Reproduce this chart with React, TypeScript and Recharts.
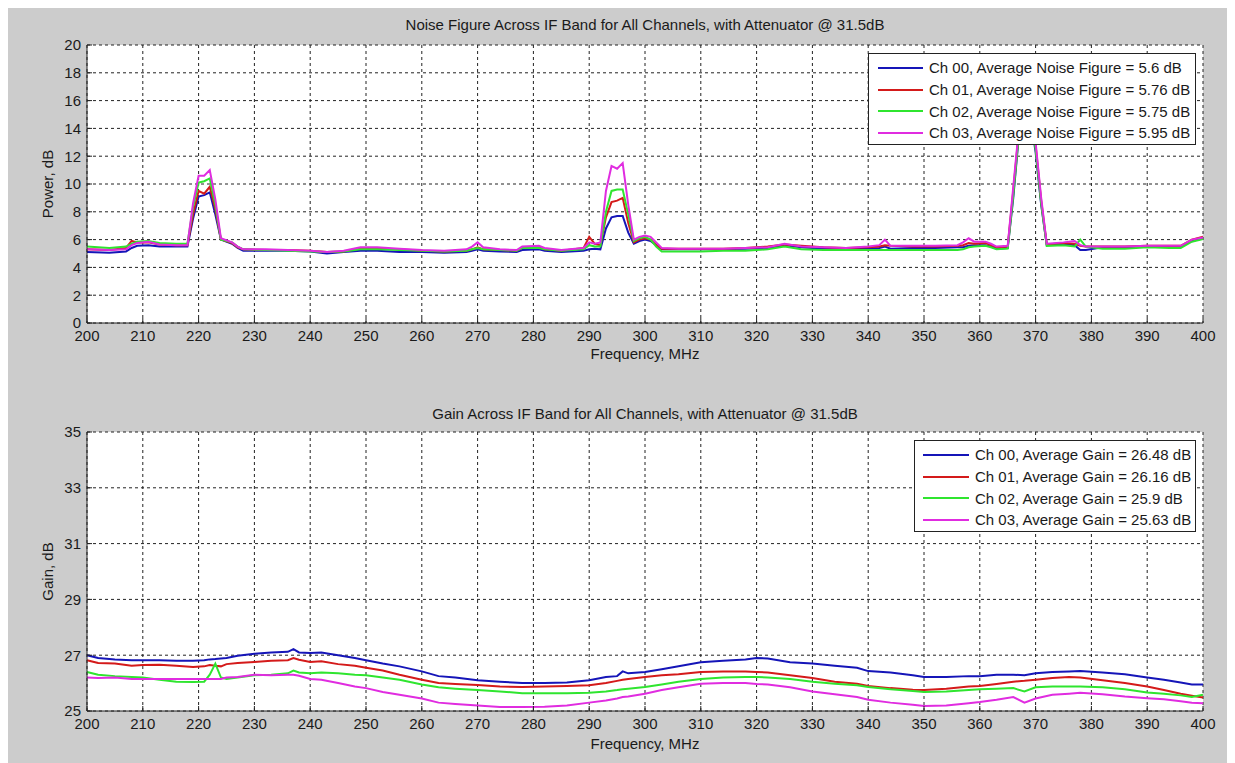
import React from 'react';
import { CartesianGrid, Label, Line, LineChart, XAxis, YAxis } from 'recharts';

const FONT = '"Liberation Sans", Arial, Helvetica, sans-serif';

const channelNames = ['Ch 00', 'Ch 01', 'Ch 02', 'Ch 03'];
const channelColors = ['#1515b8', '#d41a1a', '#2fe52f', '#e02ce0'];

const freqTicks = [200, 210, 220, 230, 240, 250, 260, 270, 280, 290, 300, 310, 320, 330, 340, 350, 360, 370, 380, 390, 400];
const nfTicks = [0, 2, 4, 6, 8, 10, 12, 14, 16, 18, 20];
const gainTicks = [25, 27, 29, 31, 33, 35];

const nfAverages = [5.6, 5.76, 5.75, 5.95];
const gainAverages = [26.48, 26.16, 25.9, 25.63];

// noise figure sweep, MHz
const nfFreq = [
  200, 204, 207, 208, 209, 211, 213, 216, 218, 219,
  220, 221, 222, 223, 224, 226, 227, 228, 232, 236,
  240, 243, 246, 249, 252, 256, 260, 264, 268, 269,
  270, 271, 274, 277, 278, 281, 282, 285, 289, 290,
  291, 292, 293, 294, 295, 296, 297, 298, 299, 300,
  301, 302, 303, 306, 310, 314, 318, 322, 325, 328,
  332, 336, 340, 342, 343, 344, 348, 352, 356, 357,
  358, 359, 361, 362, 363, 365, 366, 367, 368, 369,
  370, 371, 372, 375, 377, 378, 379, 382, 386, 390,
  394, 396, 398, 400,
];
const nfCh00 = [
  5.1, 5.05, 5.15, 5.4, 5.55, 5.6, 5.5, 5.5, 5.5, 7.5,
  9.1, 9.2, 9.4, 7.8, 6.0, 5.7, 5.4, 5.2, 5.2, 5.2,
  5.15, 5.0, 5.1, 5.2, 5.2, 5.1, 5.1, 5.05, 5.1, 5.2,
  5.3, 5.2, 5.15, 5.1, 5.25, 5.3, 5.2, 5.1, 5.2, 5.3,
  5.35, 5.3, 6.8, 7.6, 7.7, 7.7, 6.5, 5.7, 5.9, 6.0,
  5.9, 5.6, 5.3, 5.3, 5.3, 5.3, 5.35, 5.4, 5.6, 5.45,
  5.35, 5.35, 5.35, 5.4, 5.5, 5.35, 5.4, 5.4, 5.45, 5.45,
  5.55, 5.6, 5.6, 5.5, 5.35, 5.4, 9.0, 13.5, 15.0, 15.0,
  12.3, 8.5, 5.6, 5.7, 5.6, 5.25, 5.25, 5.45, 5.45, 5.5,
  5.5, 5.5, 5.9, 6.1,
];
const nfCh01 = [
  5.3, 5.25, 5.4, 5.9, 5.8, 5.8, 5.65, 5.6, 5.6, 7.8,
  9.5, 9.3, 9.8, 8.2, 6.0, 5.75, 5.45, 5.3, 5.25, 5.25,
  5.2, 5.1, 5.15, 5.35, 5.35, 5.3, 5.2, 5.15, 5.2, 5.3,
  5.45, 5.3, 5.25, 5.2, 5.4, 5.45, 5.3, 5.2, 5.4, 6.2,
  5.7, 5.6, 7.6, 8.7, 8.8, 9.0, 7.2, 5.8, 6.0, 6.1,
  6.0, 5.6, 5.35, 5.35, 5.35, 5.35, 5.4, 5.5, 5.65, 5.55,
  5.45, 5.4, 5.45, 5.5, 5.6, 5.55, 5.5, 5.5, 5.55, 5.6,
  5.75, 5.7, 5.75, 5.6, 5.45, 5.5, 9.5, 13.8, 15.2, 15.3,
  12.8, 8.8, 5.65, 5.75, 5.7, 5.55, 5.5, 5.5, 5.5, 5.55,
  5.55, 5.55, 6.0, 6.2,
];
const nfCh02 = [
  5.5, 5.4, 5.5, 5.7, 5.85, 5.9, 5.75, 5.7, 5.7, 8.3,
  10.1, 10.2, 10.4, 8.5, 6.0, 5.8, 5.5, 5.3, 5.25, 5.2,
  5.15, 5.1, 5.15, 5.3, 5.3, 5.25, 5.2, 5.15, 5.2, 5.3,
  5.4, 5.3, 5.25, 5.2, 5.4, 5.4, 5.3, 5.2, 5.3, 5.6,
  5.5, 5.5, 8.0, 9.5, 9.6, 9.6, 7.8, 5.9, 6.1, 6.2,
  6.0, 5.5, 5.15, 5.15, 5.15, 5.2, 5.2, 5.3, 5.5, 5.3,
  5.25, 5.25, 5.25, 5.25, 5.25, 5.25, 5.25, 5.25, 5.25, 5.3,
  5.45, 5.5, 5.55, 5.45, 5.3, 5.35, 9.2, 13.6, 15.0, 15.1,
  12.5, 8.6, 5.55, 5.6, 5.5, 6.0, 5.5, 5.35, 5.35, 5.45,
  5.4, 5.4, 5.85, 6.05,
];
const nfCh03 = [
  5.3, 5.25, 5.3, 5.6, 5.75, 5.85, 5.65, 5.6, 5.6, 8.6,
  10.6, 10.6, 11.0, 8.9, 6.1, 5.8, 5.5, 5.3, 5.3, 5.25,
  5.2, 5.1, 5.2, 5.45, 5.45, 5.35, 5.25, 5.2, 5.3, 5.5,
  5.8, 5.45, 5.3, 5.25, 5.5, 5.55, 5.4, 5.25, 5.4, 5.8,
  5.7, 5.8, 9.5, 11.3, 11.1, 11.5, 8.5, 6.0, 6.2, 6.3,
  6.2, 5.8, 5.4, 5.35, 5.35, 5.35, 5.4, 5.45, 5.7, 5.5,
  5.45, 5.4, 5.5, 5.6, 6.0, 5.55, 5.55, 5.55, 5.6, 5.8,
  6.1, 5.85, 5.85, 5.7, 5.5, 5.55, 9.8, 14.0, 15.3, 15.4,
  13.0, 9.0, 5.7, 5.8, 5.9, 5.6, 5.5, 5.5, 5.5, 5.55,
  5.55, 5.55, 6.0, 6.15,
];

// gain sweep, MHz
const gainFreq = [
  200, 202, 205, 208, 210, 213, 216, 219, 221, 222,
  223, 224, 225, 227, 230, 233, 236, 237, 238, 240,
  242, 245, 248, 250, 253, 256, 260, 263, 266, 270,
  274, 278, 282, 286, 290, 293, 295, 296, 297, 300,
  303, 306, 310, 314, 318, 320, 322, 326, 330, 334,
  338, 340, 344, 348, 350, 354, 358, 360, 363, 366,
  368, 370, 373, 376, 378, 382, 386, 390, 393, 396,
  398, 400,
];
const gainCh00 = [
  27.0, 26.9, 26.85, 26.82, 26.82, 26.82, 26.8, 26.8, 26.82, 26.85,
  26.86, 26.88, 26.9, 26.98, 27.05, 27.1, 27.12, 27.22, 27.1, 27.08,
  27.1, 27.0, 26.9, 26.82, 26.7, 26.6, 26.42, 26.25, 26.2, 26.1,
  26.05, 26.0, 26.0, 26.02, 26.1, 26.22, 26.25, 26.42, 26.35, 26.4,
  26.5, 26.6, 26.75, 26.8, 26.85, 26.9, 26.88, 26.75, 26.7, 26.62,
  26.55, 26.43, 26.38, 26.28, 26.22, 26.22, 26.25, 26.25, 26.3, 26.3,
  26.28, 26.35, 26.4, 26.42, 26.43, 26.38, 26.32, 26.2, 26.12, 26.02,
  25.95, 25.95,
];
const gainCh01 = [
  26.82, 26.72, 26.7, 26.62, 26.65, 26.66, 26.62, 26.58, 26.6, 26.65,
  26.62, 26.6, 26.68, 26.72, 26.76, 26.8, 26.82, 26.9, 26.84, 26.76,
  26.78, 26.68, 26.62, 26.55, 26.45, 26.3, 26.12, 26.0, 25.97, 25.93,
  25.88, 25.86, 25.88, 25.9, 25.92, 26.0, 26.08, 26.12, 26.15, 26.22,
  26.28, 26.32, 26.4, 26.42, 26.42, 26.4, 26.38, 26.28, 26.18, 26.05,
  25.98, 25.9, 25.82, 25.76, 25.75, 25.8, 25.88, 25.9, 25.97, 26.05,
  26.08, 26.12, 26.18, 26.22, 26.2, 26.1, 26.0, 25.88, 25.75, 25.62,
  25.55, 25.48,
];
const gainCh02 = [
  26.4, 26.3, 26.25, 26.22, 26.2, 26.12, 26.05, 26.04, 26.05, 26.3,
  26.7, 26.2, 26.15, 26.2, 26.28, 26.3, 26.35, 26.45, 26.38, 26.35,
  26.38, 26.35, 26.3, 26.28, 26.2, 26.12, 25.95, 25.85, 25.8, 25.75,
  25.7, 25.64, 25.64, 25.64, 25.65, 25.7, 25.75, 25.78, 25.8, 25.86,
  25.95, 26.05, 26.15, 26.2, 26.22, 26.22, 26.2, 26.15, 26.05, 25.98,
  25.92, 25.86, 25.78, 25.72, 25.68, 25.7, 25.75, 25.78, 25.8, 25.82,
  25.7, 25.85, 25.88, 25.88, 25.88, 25.85, 25.78, 25.66, 25.62, 25.56,
  25.5, 25.58,
];
const gainCh03 = [
  26.2, 26.18, 26.2, 26.15, 26.15, 26.15, 26.15, 26.15, 26.15, 26.15,
  26.15, 26.15, 26.2, 26.22, 26.3, 26.28, 26.3, 26.3, 26.26, 26.15,
  26.12, 26.0, 25.88, 25.82, 25.68, 25.58, 25.45, 25.3, 25.25, 25.2,
  25.14, 25.14, 25.15, 25.2, 25.3, 25.38, 25.45, 25.5, 25.52, 25.62,
  25.75, 25.85, 25.98, 26.0, 26.0, 25.97, 25.95, 25.85, 25.7, 25.6,
  25.5, 25.4, 25.3, 25.22, 25.18, 25.2, 25.28, 25.32, 25.4, 25.5,
  25.3, 25.45, 25.58, 25.62, 25.65, 25.6, 25.52, 25.46, 25.42, 25.35,
  25.3, 25.28,
];

const toRows = (freq: number[], series: number[][]) =>
  freq.map((f, i) => {
    const row: Record<string, number> = { f };
    series.forEach((s, k) => {
      row[`ch${k}`] = s[i];
    });
    return row;
  });

const nfRows = toRows(nfFreq, [nfCh00, nfCh01, nfCh02, nfCh03]);
const gainRows = toRows(gainFreq, [gainCh00, gainCh01, gainCh02, gainCh03]);

const CHART_W = 1227;
const tickStyle = { fontSize: 15, fill: '#1a1a1a', fontFamily: FONT };

type LegendProps = {
  labels: string[];
  left: number;
  top: number;
  width: number;
  padLeft: number;
  swatch: number;
};

const LegendBox = ({ labels, left, top, width, padLeft, swatch }: LegendProps) => (
  <div
    style={{
      position: 'absolute',
      left,
      top,
      width,
      height: 92,
      boxSizing: 'border-box',
      background: '#fff',
      border: '1px solid #222',
      paddingTop: 3,
      paddingLeft: padLeft,
      zIndex: 2,
    }}
  >
    {labels.map((lbl, i) => (
      <div key={lbl} style={{ display: 'flex', alignItems: 'center', height: 21.7, fontSize: 15, color: '#1a1a1a', whiteSpace: 'nowrap' }}>
        <span style={{ display: 'inline-block', width: swatch, height: 2, background: channelColors[i], marginRight: 6 }} />
        {lbl}
      </div>
    ))}
  </div>
);

type PanelProps = {
  rows: Record<string, number>[];
  yTicks: number[];
  yLabel: string;
  height: number;
  marginTop: number;
  marginBottom: number;
  xLabelOffset: number;
};

const Panel = ({ rows, yTicks, yLabel, height, marginTop, marginBottom, xLabelOffset }: PanelProps) => (
  <LineChart width={CHART_W} height={height} data={rows} margin={{ top: marginTop, right: 32, left: 0, bottom: marginBottom }}>
    <CartesianGrid fill="#fff" stroke="#222" strokeDasharray="3 3" />
    <XAxis
      dataKey="f"
      type="number"
      domain={[200, 400]}
      ticks={freqTicks}
      interval={0}
      tick={tickStyle}
      tickSize={-5}
      tickMargin={12}
      stroke="#222"
      height={30}
    >
      <Label value="Frequency, MHz" position="bottom" offset={xLabelOffset} style={{ fontSize: 15, fill: '#1a1a1a', fontFamily: FONT }} />
    </XAxis>
    <YAxis
      type="number"
      domain={[yTicks[0], yTicks[yTicks.length - 1]]}
      ticks={yTicks}
      interval={0}
      tick={tickStyle}
      tickSize={-5}
      tickMargin={11}
      stroke="#222"
      width={79}
      allowDataOverflow
    >
      <Label
        value={yLabel}
        angle={-90}
        position="insideLeft"
        offset={40}
        style={{ fontSize: 15, fill: '#1a1a1a', fontFamily: FONT, textAnchor: 'middle' }}
      />
    </YAxis>
    {channelNames.map((name, k) => (
      <Line
        key={name}
        dataKey={`ch${k}`}
        type="linear"
        stroke={channelColors[k]}
        strokeWidth={2}
        dot={false}
        activeDot={false}
        isAnimationActive={false}
      />
    ))}
  </LineChart>
);

const titleStyle: React.CSSProperties = {
  position: 'absolute',
  left: 79,
  width: 1116,
  height: 20,
  lineHeight: '20px',
  textAlign: 'center',
  fontSize: 15,
  color: '#1a1a1a',
};

export default function App() {
  const nfLabels = channelNames.map((n, i) => `${n}, Average Noise Figure = ${nfAverages[i]} dB`);
  const gainLabels = channelNames.map((n, i) => `${n}, Average Gain = ${gainAverages[i]} dB`);
  return (
    <div style={{ position: 'relative', width: CHART_W, height: 756, marginTop: -1, background: '#cccccc', fontFamily: FONT }}>
      <div style={{ position: 'absolute', left: 0, top: 0 }}>
        <Panel rows={nfRows} yTicks={nfTicks} yLabel="Power, dB" height={370} marginTop={38} marginBottom={24} xLabelOffset={-5} />
      </div>
      <div style={{ ...titleStyle, top: 8 }}>Noise Figure Across IF Band for All Channels, with Attenuator @ 31.5dB</div>
      <LegendBox labels={nfLabels} left={860} top={46} width={328} padLeft={9} swatch={45} />

      <div style={{ position: 'absolute', left: 0, top: 370 }}>
        <Panel rows={gainRows} yTicks={gainTicks} yLabel="Gain, dB" height={384} marginTop={55} marginBottom={20} xLabelOffset={-3} />
      </div>
      <div style={{ ...titleStyle, top: 397 }}>Gain Across IF Band for All Channels, with Attenuator @ 31.5dB</div>
      <LegendBox labels={gainLabels} left={906} top={433} width={282} padLeft={8} swatch={46} />
    </div>
  );
}
